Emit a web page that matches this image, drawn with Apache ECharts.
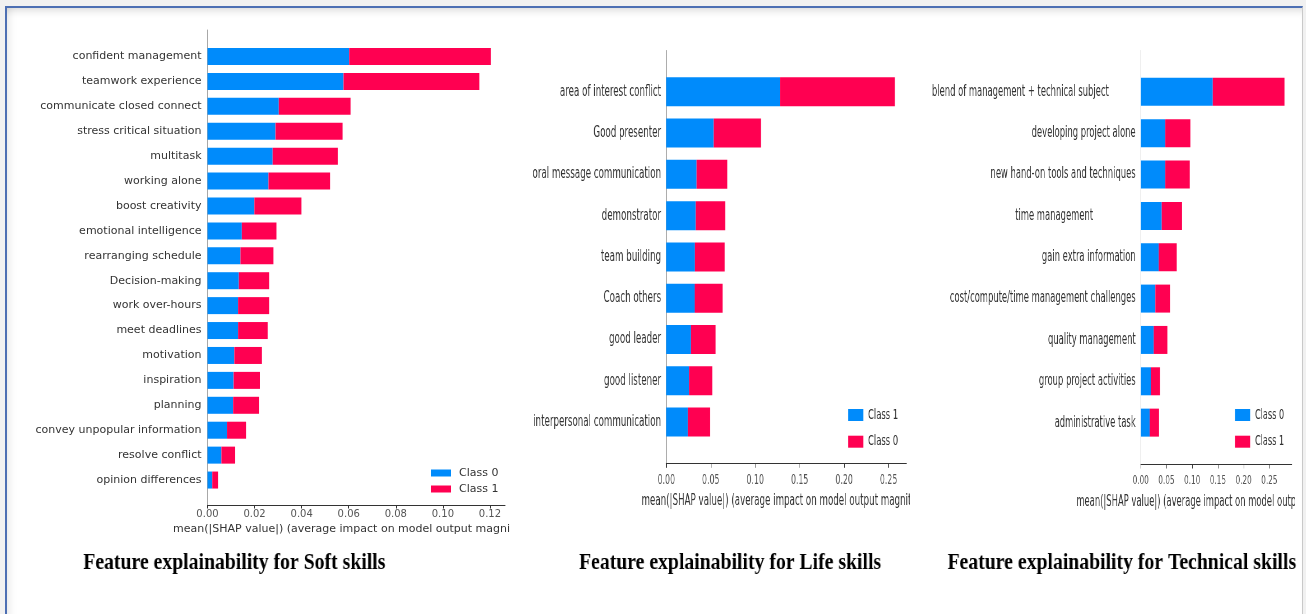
<!DOCTYPE html>
<html>
<head>
<meta charset="utf-8">
<script src="https://cdn.jsdelivr.net/npm/echarts@6/dist/echarts.min.js"></script>
<style>
  html, body { margin: 0; padding: 0; }
  body { width: 1306px; height: 614px; background: #f1f1f1; position: relative; overflow: hidden; }
  #frame {
    position: absolute; left: 5px; top: 6px; width: 1295px; height: 640px;
    background: #fff;
    border-top: 2px solid #4d6fb3; border-left: 2px solid #4d6fb3; border-right: 1px solid #c9c9c9;
    box-shadow: inset 0 9px 8px -7px rgba(0,0,0,0.16), inset 9px 0 8px -7px rgba(0,0,0,0.10);
  }
  .panel { position: absolute; top: 0; height: 614px; transform-origin: 0 0; }
</style>
</head>
<body>
<div id="frame"></div>
<div id="soft" class="panel" style="left:0px;width:510px;"></div>
<div id="life" class="panel" style="left:520px;width:672px;transform:scaleX(0.58);"></div>
<div id="tech" class="panel" style="left:920px;width:670px;transform:scaleX(0.56);"></div>
<div id="caps" class="panel" style="left:0px;width:1590px;transform:scaleX(0.822);"></div>

<script>
// ---- Soft skills ----
const softCats = [
  'confident management', 'teamwork experience', 'communicate closed connect',
  'stress critical situation', 'multitask', 'working alone', 'boost creativity',
  'emotional intelligence', 'rearranging schedule', 'Decision-making',
  'work over-hours', 'meet deadlines', 'motivation', 'inspiration', 'planning',
  'convey unpopular information', 'resolve conflict', 'opinion differences'
];
const softClass0 = [0.0602, 0.0578, 0.0303, 0.0289, 0.0277, 0.0259, 0.0199, 0.0146, 0.0140,
                    0.0133, 0.0130, 0.0130, 0.0114, 0.0111, 0.0109, 0.0083, 0.0059, 0.0020];
const softClass1 = [0.0602, 0.0577, 0.0305, 0.0285, 0.0277, 0.0262, 0.0200, 0.0147, 0.0140,
                    0.0129, 0.0132, 0.0126, 0.0117, 0.0112, 0.0110, 0.0081, 0.0058, 0.0025];
const softTicks = [0, 0.02, 0.04, 0.06, 0.08, 0.10, 0.12];

// ---- Life skills ----
const lifeCats = [
  'area of interest conflict', 'Good presenter', 'oral message communication',
  'demonstrator', 'team building', 'Coach others', 'good leader', 'good listener',
  'interpersonal communication'
];
const lifeClass1 = [0.1278, 0.0532, 0.0341, 0.0330, 0.0322, 0.0319, 0.0278, 0.0255, 0.0244];
const lifeClass0 = [0.1292, 0.0532, 0.0345, 0.0333, 0.0334, 0.0315, 0.0277, 0.0262, 0.0250];
const lifeTicks = [0, 0.05, 0.10, 0.15, 0.20, 0.25];

// ---- Technical skills ----
const techCats = [
  'blend of management + technical subject', 'developing project alone',
  'new hand-on tools and techniques', 'time management', 'gain extra information',
  'cost/compute/time management challenges', 'quality management',
  'group project activities', 'administrative task'
];
const techClass0 = [0.1400, 0.0479, 0.0479, 0.0408, 0.0350, 0.0285, 0.0253, 0.0195, 0.0175];
const techClass1 = [0.1394, 0.0486, 0.0474, 0.0395, 0.0350, 0.0285, 0.0265, 0.0181, 0.0181];
const techTicks = [0, 0.05, 0.10, 0.15, 0.20, 0.25];

const captions = [
  'Feature explainability for Soft skills',
  'Feature explainability for Life skills',
  'Feature explainability for Technical skills'
];
const axisTitle = 'mean(|SHAP value|) (average impact on model output magnitude)';

const BLUE = '#008bfb';
const RED = '#ff0051';
const FONT = 'DejaVu Sans';

function shapBarOption(c) {
  const fmt = v => v.toFixed(2);
  return {
    backgroundColor: 'transparent',
    animation: false,
    textStyle: { fontFamily: FONT },
    grid: [
      { left: c.left, right: c.right, top: c.plotTop, bottom: c.plotBottom, outerBoundsMode: 'none', containLabel: false },
      { left: c.left, right: c.right, top: c.frameTop, bottom: c.frameBottom, outerBoundsMode: 'none', containLabel: false }
    ],
    xAxis: [
      { gridIndex: 0, type: 'value', min: 0, max: c.max, show: false },
      {
        gridIndex: 1, type: 'value', min: 0, max: c.max,
        axisLine: { show: true, onZero: false, lineStyle: { color: '#333', width: 1 } },
        axisTick: { show: true, length: c.tickLen, customValues: c.ticks, lineStyle: { color: '#333' } },
        axisLabel: { customValues: c.ticks, formatter: fmt, fontSize: c.tickFont, color: '#555', margin: c.tickMargin, fontFamily: FONT },
        splitLine: { show: false },
        name: axisTitle, nameLocation: 'middle', nameGap: c.nameGap,
        nameTextStyle: { fontSize: c.titleFont, color: '#333', fontFamily: FONT, verticalAlign: 'top' }
      }
    ],
    yAxis: [
      {
        gridIndex: 0, type: 'category', data: c.cats, inverse: true,
        axisLine: { show: false }, axisTick: { show: false }, splitLine: { show: false },
        axisLabel: {
          fontSize: c.labelFont, color: '#333', margin: c.labelMargin, fontFamily: FONT,
          formatter: c.labelFormatter || (v => v),
          rich: c.labelRich || {}
        }
      },
      {
        gridIndex: 1, type: 'value', min: 0, max: 1,
        axisLine: { show: true, onZero: false, lineStyle: { color: '#a8a8a8', width: 1 } },
        axisTick: { show: false }, axisLabel: { show: false }, splitLine: { show: false }
      }
    ],
    legend: {
      orient: 'vertical', left: c.legend.left, top: c.legend.top, padding: 0,
      icon: 'rect', itemWidth: c.legend.itemWidth, itemHeight: c.legend.itemHeight,
      itemGap: c.legend.itemGap, selectedMode: false,
      data: [c.first.name, c.second.name],
      textStyle: {
        fontSize: c.legend.font, lineHeight: c.legend.lineHeight, color: '#333',
        fontFamily: FONT, padding: [0, 0, 0, c.legend.textPad]
      }
    },
    series: [
      { type: 'bar', name: c.first.name, data: c.first.data, stack: 'shap', xAxisIndex: 0, yAxisIndex: 0,
        barWidth: c.barWidth, itemStyle: { color: BLUE }, emphasis: { disabled: true } },
      { type: 'bar', name: c.second.name, data: c.second.data, stack: 'shap', xAxisIndex: 0, yAxisIndex: 0,
        barWidth: c.barWidth, itemStyle: { color: RED }, emphasis: { disabled: true } }
    ]
  };
}

// Soft skills panel (drawn at natural width)
echarts.init(document.getElementById('soft'), null, { renderer: 'canvas' }).setOption(shapBarOption({
  cats: softCats, ticks: softTicks, max: 0.1264,
  first: { name: 'Class 0', data: softClass0 },
  second: { name: 'Class 1', data: softClass1 },
  left: 207.5, right: 5, plotTop: 44, plotBottom: 121.5, frameTop: 30, frameBottom: 109,
  barWidth: 17, labelFont: 11, labelMargin: 6,
  tickFont: 10, tickLen: 3.5, tickMargin: 4, titleFont: 11, nameGap: 16.5,
  legend: { left: 431, top: 467.5, itemWidth: 20, itemHeight: 7, itemGap: 5, font: 11, lineHeight: 11, textPad: 3 }
}));

// Life skills panel (horizontally condensed via CSS)
echarts.init(document.getElementById('life'), null, { renderer: 'canvas' }).setOption(shapBarOption({
  cats: lifeCats, ticks: lifeTicks, max: 0.2701,
  first: { name: 'Class 1', data: lifeClass1 },
  second: { name: 'Class 0', data: lifeClass0 },
  left: 252.2, right: 5.7, plotTop: 71.2, plotBottom: 171.4, frameTop: 50.5, frameBottom: 150.7,
  barWidth: 29, labelFont: 15, labelMargin: 9,
  tickFont: 13.5, tickLen: 4.5, tickMargin: 10, titleFont: 15, nameGap: 30.5,
  legend: { left: 566, top: 407.5, itemWidth: 26, itemHeight: 12, itemGap: 11.7, font: 14.5, lineHeight: 15, textPad: 3 }
}));

// Technical skills panel (horizontally condensed via CSS); two labels sit further left
const techShift = { 0: 48, 3: 76 };
echarts.init(document.getElementById('tech'), null, { renderer: 'canvas' }).setOption(shapBarOption({
  cats: techCats, ticks: techTicks, max: 0.2935,
  first: { name: 'Class 0', data: techClass0 },
  second: { name: 'Class 1', data: techClass1 },
  left: 394.1, right: 6.2, plotTop: 71.2, plotBottom: 170.7, frameTop: 50.5, frameBottom: 150,
  barWidth: 28, labelFont: 15, labelMargin: 9,
  tickFont: 13, tickLen: 4.5, tickMargin: 10, titleFont: 15, nameGap: 30.5,
  labelFormatter: (v, i) => techShift[i] ? '{s' + i + '|' + v + '}' : v,
  labelRich: {
    s0: { fontSize: 15, color: '#333', fontFamily: FONT, padding: [0, techShift[0], 0, 0] },
    s3: { fontSize: 15, color: '#333', fontFamily: FONT, padding: [0, techShift[3], 0, 0] }
  },
  legend: { left: 562.5, top: 407.5, itemWidth: 27, itemHeight: 12, itemGap: 11.7, font: 14.5, lineHeight: 15, textPad: 3.7 }
}));

// Panel captions
const capStyle = { fontFamily: 'Liberation Serif', fontWeight: 'bold', fontSize: 24, color: '#000' };
echarts.init(document.getElementById('caps'), null, { renderer: 'canvas' }).setOption({
  backgroundColor: 'transparent',
  animation: false,
  title: [
    { text: captions[0], left: 101.3, top: 551, padding: 0, textStyle: capStyle },
    { text: captions[1], left: 704.4, top: 551, padding: 0, textStyle: capStyle },
    { text: captions[2], left: 1152.7, top: 551, padding: 0, textStyle: capStyle }
  ]
});
</script>
</body>
</html>
